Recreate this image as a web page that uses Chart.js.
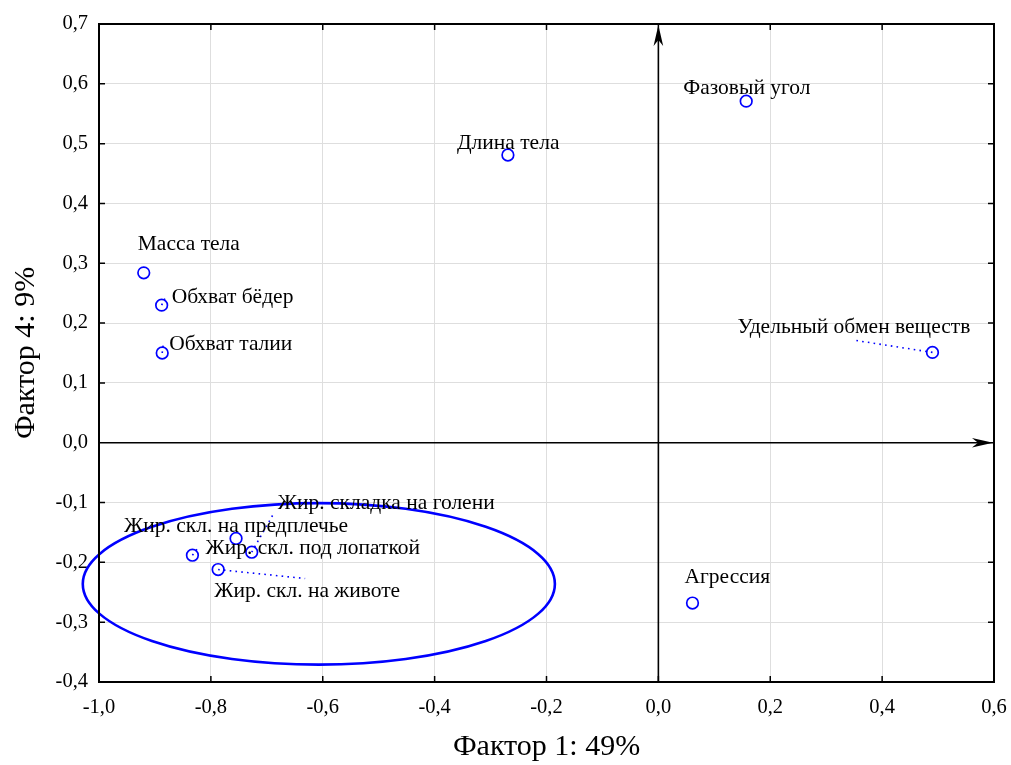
<!DOCTYPE html>
<html>
<head>
<meta charset="utf-8">
<script src="https://cdn.jsdelivr.net/npm/chart.js@4"></script>
<style>
  html, body { margin: 0; padding: 0; background: #fff; }
  #wrap { width: 1011px; height: 765px; }
</style>
</head>
<body>
<div id="wrap"><canvas id="c" width="1011" height="765"></canvas></div>
<script>
// Factor loadings: Factor 1 (x) vs Factor 4 (y)
const variableNames = [
  'Масса тела',
  'Обхват бёдер',
  'Обхват талии',
  'Длина тела',
  'Фазовый угол',
  'Удельный обмен веществ',
  'Агрессия',
  'Жир. складка на голени',
  'Жир. скл. на предплечье',
  'Жир. скл. под лопаткой',
  'Жир. скл. на животе'
];
const factor1Loadings = [-0.920, -0.888, -0.887, -0.269, 0.157, 0.490, 0.061, -0.727, -0.755, -0.833, -0.787];
const factor4Loadings = [ 0.284,  0.230,  0.150,  0.481, 0.571, 0.151, -0.268, -0.183, -0.160, -0.188, -0.212];

// Axis ranges and tick steps
const xRange = [-1.0, 0.6];
const yRange = [-0.4, 0.7];
const xStep = 0.2;
const yStep = 0.1;

// Fat-fold group outline (centre and half-axes in loading units)
const groupCentre = [-0.607, -0.236];
const groupHalfAxes = [0.422, 0.135];

// Label placement in pixels relative to each point: [dx, dy] of the text's left/middle,
// plus an optional dotted leader end [lx, ly]
const labelOffsets = [
  [-6, -28, null],
  [10, -8, [4, -8]],
  [7, -9, [1, -8]],
  [-51, -12, null],
  [-63, -13, null],
  [-195, -25, [-77, -12]],
  [-8, -26, null],
  [26, -49, [21, -37]],
  [-112, -12, null],
  [13, -7, [7, -9]],
  [-4, 22, [87, 9]]
];

const BLUE = '#0000ff';
const SERIF = '"Liberation Serif", "Times New Roman", serif';
const fmt = v => (Math.round(v * 10) / 10).toFixed(1).replace('.', ',');

const points = factor1Loadings.map((x, i) => ({ x, y: factor4Loadings[i] }));

function arrowHead(ctx, x, y, dir) {
  // dir: 'up' or 'right'; notched arrow head with tip at (x, y)
  const L = 21, W = 4.8, N = 6;
  ctx.beginPath();
  if (dir === 'right') {
    ctx.moveTo(x, y);
    ctx.lineTo(x - L, y - W);
    ctx.lineTo(x - L + N, y);
    ctx.lineTo(x - L, y + W);
  } else {
    ctx.moveTo(x, y);
    ctx.lineTo(x - W, y + L);
    ctx.lineTo(x, y + L - N);
    ctx.lineTo(x + W, y + L);
  }
  ctx.closePath();
  ctx.fill();
}

const decorPlugin = {
  id: 'decor',
  beforeDatasetsDraw(chart) {
    const { ctx, chartArea: a, scales: { x, y } } = chart;
    ctx.save();
    // zero axes with arrows
    const x0 = x.getPixelForValue(0), y0 = y.getPixelForValue(0);
    ctx.strokeStyle = '#000';
    ctx.fillStyle = '#000';
    ctx.lineWidth = 1.6;
    ctx.beginPath();
    ctx.moveTo(x0, a.bottom);
    ctx.lineTo(x0, a.top + 12);
    ctx.moveTo(a.left + 6, y0);
    ctx.lineTo(a.right - 12, y0);
    ctx.stroke();
    arrowHead(ctx, x0, a.top + 1, 'up');
    arrowHead(ctx, a.right - 1, y0, 'right');

    // group outline
    const cx = x.getPixelForValue(groupCentre[0]);
    const cy = y.getPixelForValue(groupCentre[1]);
    const rx = Math.abs(x.getPixelForValue(groupCentre[0] + groupHalfAxes[0]) - cx);
    const ry = Math.abs(y.getPixelForValue(groupCentre[1] + groupHalfAxes[1]) - cy);
    ctx.strokeStyle = BLUE;
    ctx.lineWidth = 2.6;
    ctx.beginPath();
    ctx.ellipse(cx, cy, rx, ry, 0, 0, Math.PI * 2);
    ctx.stroke();

    // dotted leaders
    ctx.lineWidth = 1.6;
    ctx.setLineDash([1.6, 4.2]);
    points.forEach((p, i) => {
      const lead = labelOffsets[i][2];
      if (!lead) return;
      const px = x.getPixelForValue(p.x), py = y.getPixelForValue(p.y);
      ctx.beginPath();
      ctx.moveTo(px, py);
      ctx.lineTo(px + lead[0], py + lead[1]);
      ctx.stroke();
    });
    ctx.restore();
  },
  afterDatasetsDraw(chart) {
    const { ctx, chartArea: a, scales: { x, y } } = chart;
    ctx.save();
    // point labels
    ctx.fillStyle = '#000';
    ctx.font = '21.5px ' + SERIF;
    ctx.textAlign = 'left';
    ctx.textBaseline = 'middle';
    points.forEach((p, i) => {
      const px = x.getPixelForValue(p.x), py = y.getPixelForValue(p.y);
      const [dx, dy] = labelOffsets[i];
      ctx.fillText(variableNames[i], px + dx, py + dy);
    });

    // frame and inward ticks
    ctx.strokeStyle = '#000';
    ctx.lineWidth = 2;
    ctx.strokeRect(a.left, a.top, a.right - a.left, a.bottom - a.top);
    ctx.lineWidth = 1.5;
    ctx.beginPath();
    const T = 6;
    x.ticks.forEach(t => {
      const px = x.getPixelForValue(t.value);
      ctx.moveTo(px, a.bottom); ctx.lineTo(px, a.bottom - T);
      ctx.moveTo(px, a.top); ctx.lineTo(px, a.top + T);
    });
    y.ticks.forEach(t => {
      const py = y.getPixelForValue(t.value);
      ctx.moveTo(a.left, py); ctx.lineTo(a.left + T, py);
      ctx.moveTo(a.right, py); ctx.lineTo(a.right - T, py);
    });
    ctx.stroke();
    ctx.restore();
  }
};

new Chart(document.getElementById('c'), {
  type: 'scatter',
  data: {
    datasets: [{
      data: points,
      pointStyle: 'circle',
      pointRadius: 5.8,
      pointHoverRadius: 5.8,
      pointBorderWidth: 1.7,
      pointBorderColor: BLUE,
      pointBackgroundColor: 'rgba(0,0,0,0)'
    }]
  },
  options: {
    responsive: false,
    animation: false,
    devicePixelRatio: 1,
    layout: { padding: { top: 24, right: 17, left: 0, bottom: 0 } },
    plugins: { legend: { display: false }, tooltip: { enabled: false } },
    scales: {
      x: {
        type: 'linear',
        min: xRange[0], max: xRange[1],
        grid: { color: '#dedede', lineWidth: 1, drawTicks: false },
        border: { display: false },
        ticks: {
          stepSize: xStep, padding: 13, color: '#000',
          font: { family: SERIF, size: 20.5 },
          callback: v => fmt(v)
        },
        title: {
          display: true, text: 'Фактор 1: 49%', color: '#000',
          font: { family: SERIF, size: 30 }, padding: { top: 0, bottom: 0 }
        },
        afterFit: s => { s.height = 83; s.paddingLeft = 0; s.paddingRight = 0; }
      },
      y: {
        type: 'linear',
        min: yRange[0], max: yRange[1],
        grid: { color: '#dedede', lineWidth: 1, drawTicks: false },
        border: { display: false },
        ticks: {
          stepSize: yStep, padding: 11, color: '#000',
          font: { family: SERIF, size: 20.5 },
          callback: v => fmt(v)
        },
        title: {
          display: true, text: 'Фактор 4: 9%', color: '#000',
          font: { family: SERIF, size: 30 }, padding: { top: 8, bottom: 0 }
        },
        afterFit: s => { s.width = 99; s.paddingTop = 0; s.paddingBottom = 0; }
      }
    }
  },
  plugins: [decorPlugin]
});
</script>
</body>
</html>
